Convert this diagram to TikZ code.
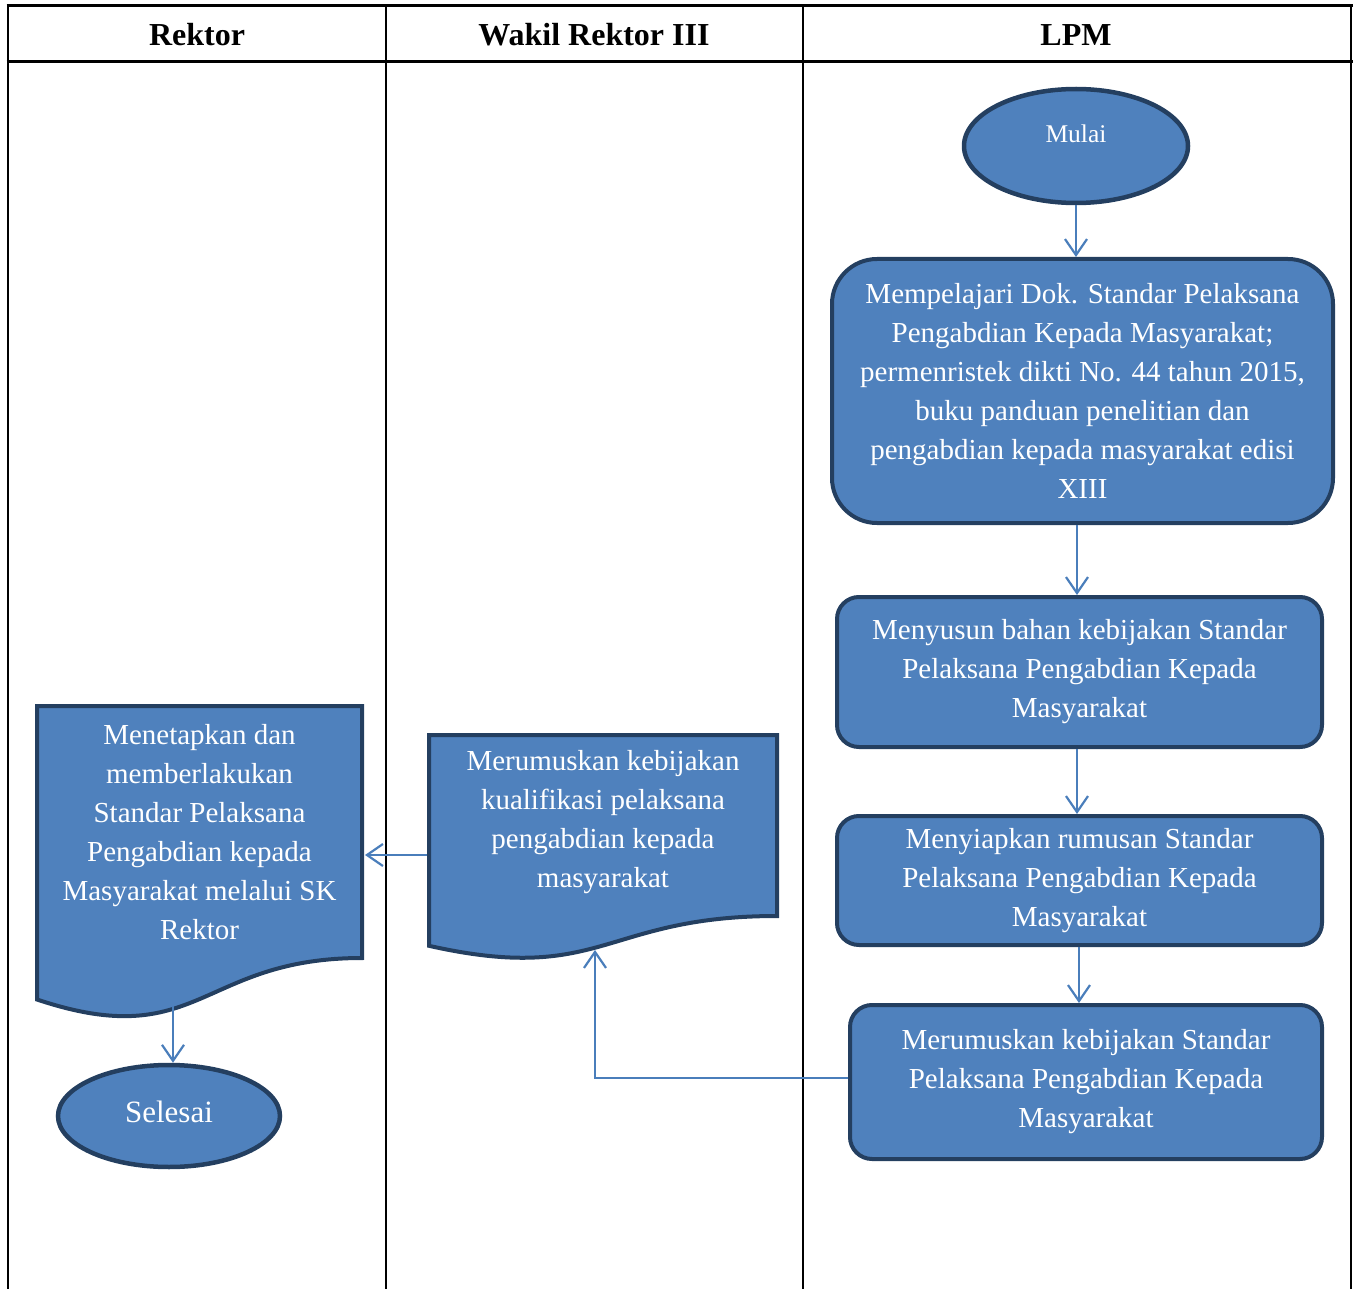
\documentclass[tikz,border=0pt]{standalone}
\usepackage{fontspec}
\setmainfont{LiberationSerif}[Extension=.ttf, UprightFont=*-Regular, BoldFont=*-Bold, ItalicFont=*-Italic, BoldItalicFont=*-BoldItalic]
\usetikzlibrary{shapes.geometric,arrows.meta}
\definecolor{fillblue}{HTML}{4F81BD}
\definecolor{edgeblue}{HTML}{243F60}
\definecolor{arrowblue}{HTML}{4A7EBB}
\newcommand\bodyfont{\fontsize{29}{39}\selectfont}
\newcommand\headfont{\fontsize{32}{36}\selectfont\bfseries}
\tikzset{
 proc/.style={draw=edgeblue, fill=fillblue, line width=4pt, rounded corners=#1, text=white, align=center, inner sep=0pt, font=\bodyfont},
 term/.style={ellipse, draw=edgeblue, fill=fillblue, line width=4.5pt, text=white, inner sep=0pt},
 docshape/.style={draw=edgeblue, fill=fillblue, line width=4pt, line join=miter},
 doctext/.style={text=white, align=center, font=\bodyfont, inner sep=0pt},
 flow/.style={draw=arrowblue, line width=2.2pt, -{Straight Barb[length=16pt,width=22pt,line width=2.2pt]}},
 gridline/.style={line width=2pt, black},
 headline/.style={line width=3pt, black},
 head/.style={font=\headfont}
}
\begin{document}
\begin{tikzpicture}[x=1pt,y=-1pt]
\useasboundingbox (0,0) rectangle (1358,1289);
% table
\draw[headline] (6.5,6) -- (1352.5,6);
\draw[headline] (6.5,62) -- (1352.5,62);
\draw[gridline] (8,6) -- (8,1289);
\draw[gridline] (386,6) -- (386,1289);
\draw[gridline] (803,6) -- (803,1289);
\draw[gridline] (1351,6) -- (1351,1289);
\node[head] (h1) at (197,35) {Rektor};
\node[head] (h2) at (594,35) {Wakil Rektor III};
\node[head] (h3) at (1076,35) {LPM};

% LPM lane
\node[term, minimum width=224, minimum height=114, font=\fontsize{25.5}{30}\selectfont] (mulai) at (1076,146) {\raisebox{24pt}{Mulai}};
\node[proc=45, minimum width=501, minimum height=264] (b1) at (1082.5,391)
 {Mempelajari Dok. Standar Pelaksana\\Pengabdian Kepada Masyarakat;\\permenristek dikti No. 44 tahun 2015,\\buku panduan penelitian dan\\pengabdian kepada masyarakat edisi\\XIII};
\node[proc=22, minimum width=485, minimum height=150] (b2) at (1079.5,672)
 {Menyusun bahan kebijakan Standar\\Pelaksana Pengabdian Kepada\\Masyarakat};
\node[proc=22, minimum width=485, minimum height=129] (b3) at (1079.5,880.5)
 {Menyiapkan rumusan Standar\\Pelaksana Pengabdian Kepada\\Masyarakat};
\node[proc=22, minimum width=472, minimum height=154] (b4) at (1086,1082)
 {Merumuskan kebijakan Standar\\Pelaksana Pengabdian Kepada\\Masyarakat};

% Wakil Rektor III document
\draw[docshape] (429,735) -- (777,735) -- (777,916)
  .. controls (603,916) and (603,984.8) .. (429,945.8) -- cycle;
\node[doctext] (d2) at (603,822)
 {Merumuskan kebijakan\\kualifikasi pelaksana\\pengabdian kepada\\masyarakat};
\coordinate (d2in) at (595,950);
\coordinate (d2w) at (427,855);

% Rektor document
\draw[docshape] (37,706) -- (362,706) -- (362,958)
  .. controls (199.5,958) and (199.5,1053.8) .. (37,999.5) -- cycle;
\node[doctext] (d1) at (199.5,832)
 {Menetapkan dan\\memberlakukan\\Standar Pelaksana\\Pengabdian kepada\\Masyarakat melalui SK\\Rektor};
\coordinate (d1e) at (365,855);
\coordinate (d1out) at (173,1006);

\node[term, minimum width=222, minimum height=102, font=\fontsize{31}{36}\selectfont] (selesai) at (169,1116) {\raisebox{8pt}{Selesai}};

% connectors
\coordinate (c1) at (1077,0);
\coordinate (c3) at (1079,0);
\draw[flow] (mulai.south) -- (b1.north -| mulai.south);
\draw[flow] (b1.south -| c1) -- (b2.north -| c1);
\draw[flow] (b2.south -| c1) -- (b3.north -| c1);
\draw[flow] (b3.south -| c3) -- (b4.north -| c3);
\draw[flow] ([yshift=4pt]b4.west) -| (d2in);
\draw[flow] (d2w) -- (d1e);
\draw[flow] (d1out) -- (d1out |- selesai.north);
\end{tikzpicture}
\end{document}
